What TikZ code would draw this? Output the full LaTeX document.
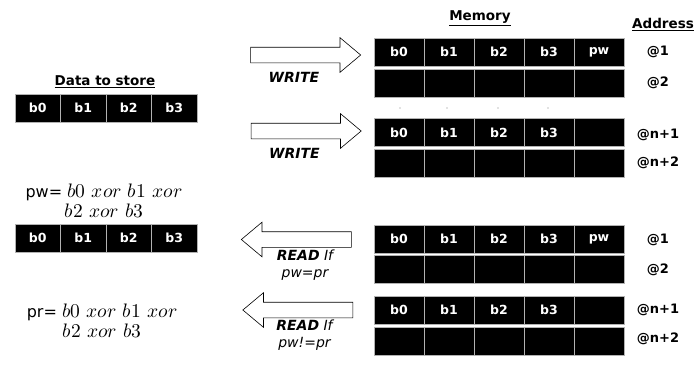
\documentclass[tikz,border=0pt]{standalone}
\usepackage{unicode-math}
\setmainfont{DejaVu Sans}
\usetikzlibrary{positioning,shapes.arrows}
\newcommand{\xormath}[1]{{\fontsize{19.5}{22}\selectfont$#1$}}

\begin{document}
\begin{tikzpicture}[x=1pt,y=-1pt]
        \tikzstyle{cell} = [rectangle,draw=gray!60,line width=1pt,fill=black,text=white,font=\bfseries\fontsize{12.5}{14}\selectfont,minimum width=50pt,minimum height=28pt,inner sep=0pt]
        \tikzstyle{dcell} = [cell,minimum width=45.5pt]
        \tikzstyle{addr} = [font=\bfseries\fontsize{13}{15}\selectfont]
        \tikzstyle{ttl} = [font=\bfseries\fontsize{13.5}{15}\selectfont]
        \tikzstyle{blk} = [single arrow,draw,line width=0.6pt,minimum width=0pt,inner xsep=0pt,inner ysep=7.5pt,single arrow head extend=9.5pt,single arrow tip angle=80,minimum height=110pt]
        \tikzstyle{lbl} = [font=\fontsize{14}{17}\selectfont\itshape,align=center,inner sep=1pt]
        \tikzstyle{eqn} = [font=\fontsize{16}{20}\selectfont,align=center,inner sep=1pt]
        \useasboundingbox (0,0) rectangle (697,368);

        % memory
        \node[ttl] (mem) at (480,18) {\underline{Memory}};
        \node[ttl] (adr) at (663,25) {\underline{Address}};
        \foreach \r/\y in {1/52,3/239} {
          \foreach \t [count=\i] in {b0,b1,b2,b3,pw}
            \node[cell] (m\r-\i) at (349+50*\i,\y) {\t};
        }
        \foreach \r/\y in {5/132.5,7/310} {
          \foreach \t [count=\i] in {b0,b1,b2,b3,{}}
            \node[cell] (m\r-\i) at (349+50*\i,\y) {\t};
        }
        \foreach \r/\y in {2/83,4/163,6/269.5,8/341} {
          \foreach \i in {1,...,5}
            \node[cell] (m\r-\i) at (349+50*\i,\y) {};
        }
        \foreach \x in {400,447,498,548}
          \fill[gray] (\x,108) circle (0.7pt);

        % addresses
        \foreach \n/\y/\t in {a1/52/@1,a2/83/@2,a3/135/@n+1,a4/163/@n+2,a5/240/@1,a6/270/@2,a7/310/@n+1,a8/339/@n+2}
          \node[addr] (\n) at (658,\y) {\t};

        % data to store
        \node[ttl] (dts) at (105,82) {\underline{Data to store}};
        \foreach \t [count=\i] in {b0,b1,b2,b3} {
          \node[dcell] (d\i) at (-7.75+45.5*\i,108) {\t};
          \node[dcell] (e\i) at (-7.75+45.5*\i,238) {\t};
        }
        \node[eqn] (pw) at (104,201) {pw= \xormath{b0\ xor\ b1\ xor}\\ \xormath{b2\ xor\ b3}};
        \node[eqn] (pr) at (102,321) {pr= \xormath{b0\ xor\ b1\ xor}\\ \xormath{b2\ xor\ b3}};

        % write / read arrows
        \node[blk] (wr1) at (301,55) {};
        \node[blk] (wr2) at (301.5,131) {};
        \node[blk,shape border rotate=180] (rd1) at (301,239.5) {};
        \node[blk,shape border rotate=180] (rd2) at (302.5,310) {};
        \node[lbl,below=8pt of wr1,xshift=-7pt] (wl1) {\textbf{WRITE}};
        \node[lbl,below=8pt of wr2,xshift=-7pt] (wl2) {\textbf{WRITE}};
        \node[lbl,below=1pt of rd1,xshift=4pt] (rl1) {\textbf{READ} If\\ pw=pr};
        \node[lbl,below=1pt of rd2,xshift=2pt] (rl2) {\textbf{READ} If\\ pw!=pr};
      \end{tikzpicture}
\end{document}
